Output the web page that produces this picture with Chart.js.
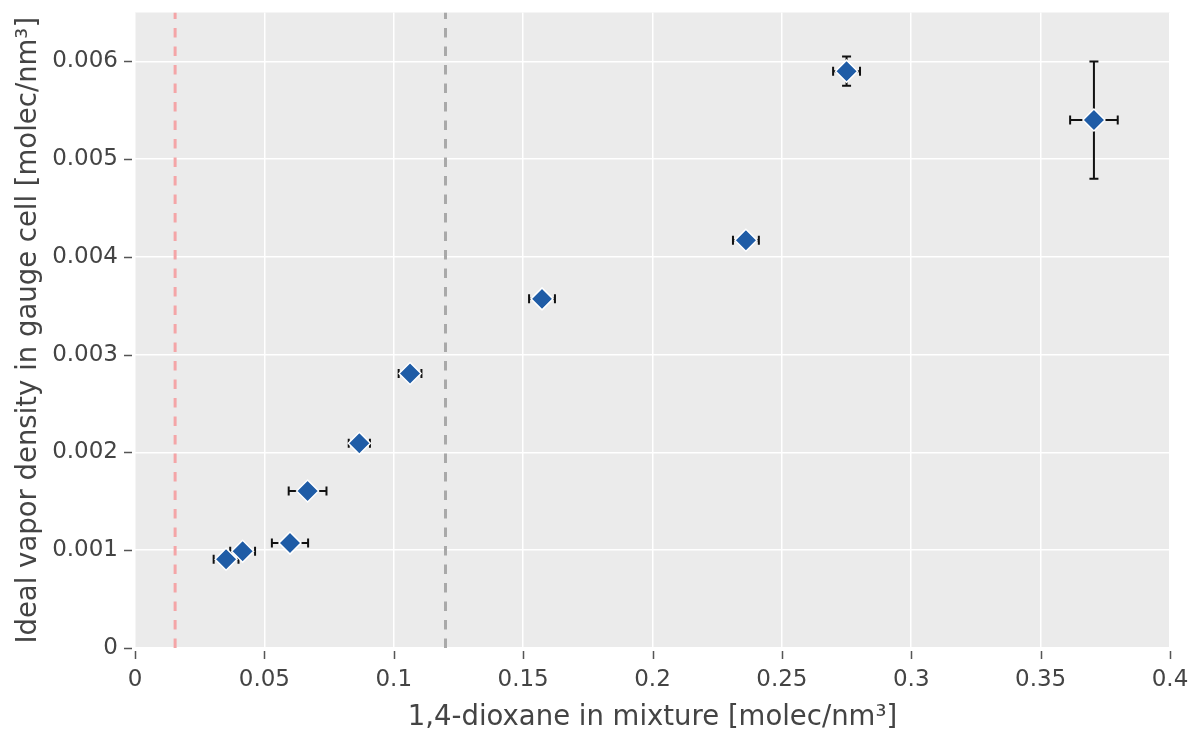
<!DOCTYPE html>
<html>
<head>
<meta charset="utf-8">
<script src="https://cdn.jsdelivr.net/npm/chart.js@4"></script>
<style>
  html, body { margin: 0; padding: 0; background: #fff; }
  #wrap { width: 1191px; height: 730px; }
</style>
</head>
<body>
<div id="wrap"><canvas id="vaporChart"></canvas></div>
<script>
// dioxane concentration in the mixture and the ideal vapor density measured in the gauge cell
const mixtureConc = [0.0352, 0.0416, 0.0599, 0.0667, 0.0867, 0.1063, 0.1573, 0.2361, 0.2750, 0.3706];
const vaporDensity = [0.000908, 0.000989, 0.001073, 0.001606, 0.002094, 0.002808, 0.003571, 0.004171, 0.005900, 0.005400];
const mixtureErr = [0.0048, 0.0048, 0.0070, 0.0073, 0.0041, 0.0044, 0.0050, 0.0050, 0.0052, 0.0092];
const densityErr = [0.00003, 0.00003, 0.00003, 0.00003, 0.00004, 0.00004, 0.00003, 0.00003, 0.00015, 0.0006];

// vertical reference lines (x positions)
const refLineX = [0.0155, 0.12];
const refLineColors = ['#f4a5a7', '#a9a9a9'];

const xTicks = [0, 0.05, 0.1, 0.15, 0.2, 0.25, 0.3, 0.35, 0.4];
const xTickLabels = ['0', '0.05', '0.1', '0.15', '0.2', '0.25', '0.3', '0.35', '0.4'];
const yTicks = [0, 0.001, 0.002, 0.003, 0.004, 0.005, 0.006];
const yTickLabels = ['0', '0.001', '0.002', '0.003', '0.004', '0.005', '0.006'];

const points = mixtureConc.map((x, i) => ({ x: x, y: vaporDensity[i] }));

const refDatasets = refLineX.map((x, i) => ({
    type: 'line',
    data: [{ x: x, y: 0 }, { x: x, y: 0.0065 }],
    borderColor: refLineColors[i],
    borderWidth: 3,
    borderDash: [9.5, 9],
    pointRadius: 0,
    order: 2
}));

// grey panel behind the plot
const panelBackground = {
    id: 'panelBackground',
    beforeDraw(chart) {
        const { ctx, chartArea: a } = chart;
        ctx.save();
        ctx.fillStyle = '#ebebeb';
        ctx.fillRect(a.left, a.top, a.right - a.left, a.bottom - a.top);
        ctx.restore();
    }
};

// short tick marks sitting just outside the panel
const outerTicks = {
    id: 'outerTicks',
    afterDraw(chart) {
        const { ctx, chartArea: a, scales } = chart;
        ctx.save();
        ctx.strokeStyle = '#555';
        ctx.lineWidth = 1.5;
        ctx.beginPath();
        xTicks.forEach(v => {
            const px = Math.round(scales.x.getPixelForValue(v)) + 0.5;
            ctx.moveTo(px, a.bottom + 3);
            ctx.lineTo(px, a.bottom + 11);
        });
        yTicks.forEach(v => {
            const py = Math.round(scales.y.getPixelForValue(v)) + 0.5;
            ctx.moveTo(a.left - 3, py);
            ctx.lineTo(a.left - 11, py);
        });
        ctx.stroke();
        ctx.restore();
    }
};

// horizontal and vertical error bars with caps, drawn under the markers
const errorBars = {
    id: 'errorBars',
    beforeDatasetsDraw(chart) {
        const { ctx, scales } = chart;
        const cap = 4.5;
        ctx.save();
        ctx.strokeStyle = '#111';
        ctx.lineWidth = 2;
        mixtureConc.forEach((x, i) => {
            const y = vaporDensity[i];
            const cx = scales.x.getPixelForValue(x);
            const cy = scales.y.getPixelForValue(y);
            const x0 = scales.x.getPixelForValue(x - mixtureErr[i]);
            const x1 = scales.x.getPixelForValue(x + mixtureErr[i]);
            const y0 = scales.y.getPixelForValue(y - densityErr[i]);
            const y1 = scales.y.getPixelForValue(y + densityErr[i]);
            ctx.beginPath();
            ctx.moveTo(x0, cy); ctx.lineTo(x1, cy);
            ctx.moveTo(x0, cy - cap); ctx.lineTo(x0, cy + cap);
            ctx.moveTo(x1, cy - cap); ctx.lineTo(x1, cy + cap);
            ctx.moveTo(cx, y0); ctx.lineTo(cx, y1);
            ctx.moveTo(cx - cap, y0); ctx.lineTo(cx + cap, y0);
            ctx.moveTo(cx - cap, y1); ctx.lineTo(cx + cap, y1);
            ctx.stroke();
        });
        ctx.restore();
    }
};

const family = "'DejaVu Sans', sans-serif";
const tickFont = { family: family, size: 23 };
const titleFont = { family: family, size: 27.5, lineHeight: 1 };

new Chart(document.getElementById('vaporChart'), {
    type: 'scatter',
    data: {
        datasets: [{
            data: points,
            pointStyle: 'rectRot',
            pointRadius: 11,
            backgroundColor: '#1f5ca6',
            borderColor: '#ffffff',
            borderWidth: 1.5,
            order: 1
        }, ...refDatasets]
    },
    options: {
        responsive: true,
        maintainAspectRatio: false,
        animation: false,
        layout: { padding: { top: 10, right: 21, left: 0, bottom: 0 } },
        plugins: {
            legend: { display: false },
            tooltip: { enabled: false }
        },
        scales: {
            x: {
                type: 'linear',
                min: 0,
                max: 0.4,
                border: { display: false },
                grid: { color: '#ffffff', lineWidth: 1.5, drawTicks: false },
                ticks: {
                    stepSize: 0.05, color: '#444', font: tickFont, padding: 18, includeBounds: false,
                    callback: (v, i) => xTickLabels[i]
                },
                title: {
                    display: true,
                    text: '1,4-dioxane in mixture [molec/nm³]',
                    color: '#444',
                    font: titleFont,
                    padding: { top: 0, bottom: -2 }
                },
                afterFit(scale) {
                    scale.height = 82;
                    scale.paddingLeft = 0;
                    scale.paddingRight = 0;
                }
            },
            y: {
                type: 'linear',
                min: 0,
                max: 0.0065,
                border: { display: false },
                grid: { color: '#ffffff', lineWidth: 1.5, drawTicks: false },
                ticks: {
                    stepSize: 0.001, color: '#444', font: tickFont, padding: 17, includeBounds: false,
                    callback: (v, i) => yTickLabels[i]
                },
                title: {
                    display: true,
                    text: 'Ideal vapor density in gauge cell [molec/nm³]',
                    color: '#444',
                    font: titleFont,
                    padding: { top: 15, bottom: 0 }
                },
                afterFit(scale) {
                    scale.width = 135;
                    scale.paddingTop = 0;
                    scale.paddingBottom = 0;
                }
            }
        }
    },
    plugins: [panelBackground, errorBars, outerTicks]
});
</script>
</body>
</html>
